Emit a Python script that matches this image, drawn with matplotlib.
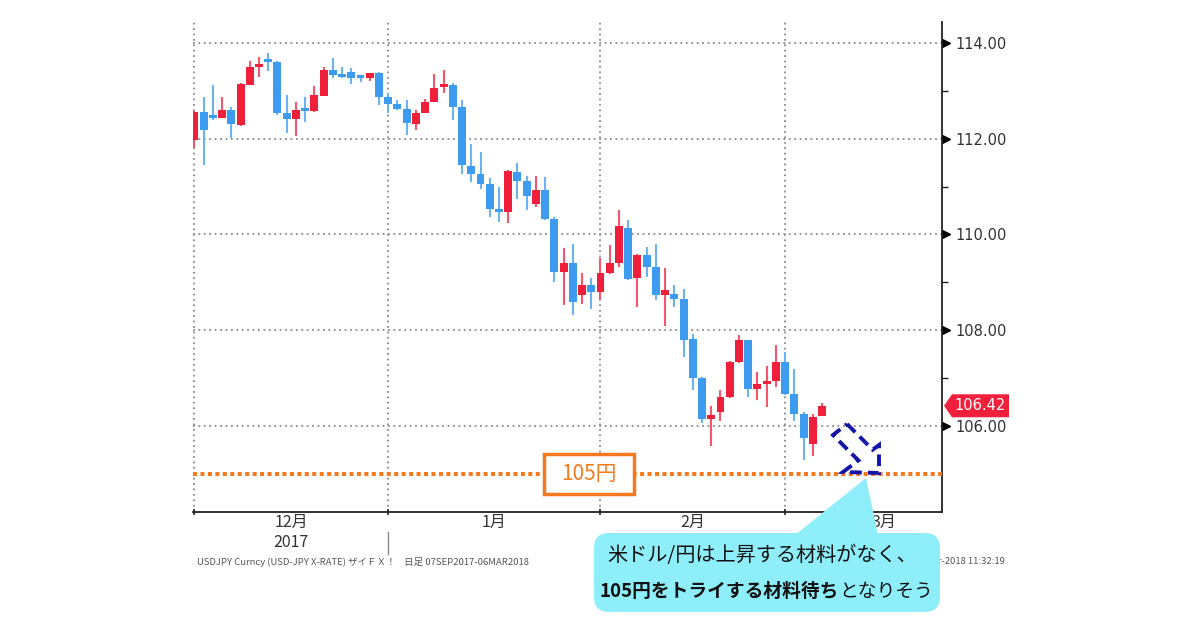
import numpy as np
import matplotlib
matplotlib.use('Agg')
import matplotlib.pyplot as plt
from matplotlib.patches import FancyBboxPatch, Polygon, Rectangle
from matplotlib.transforms import blended_transform_factory, IdentityTransform

plt.rcParams['font.family'] = ['Noto Sans CJK JP', 'DejaVu Sans']

# 米ドル/円 日足 (2017年12月〜2018年3月6日)
opens = [111.97, 112.56, 112.49, 112.43, 112.60, 112.28, 113.12, 113.50, 113.62, 113.60,
         112.54, 112.42, 112.63, 112.58, 112.89, 113.44, 113.35, 113.39, 113.30, 113.26,
         113.37, 112.88, 112.72, 112.63, 112.31, 112.53, 112.76, 113.09, 113.12, 112.67,
         111.43, 111.27, 111.06, 110.54, 110.47, 111.31, 111.12, 110.63, 110.93, 110.33,
         109.22, 109.41, 108.74, 108.94, 108.80, 109.19, 109.41, 110.14, 109.08, 109.58,
         109.33, 108.74, 108.76, 108.66, 107.82, 107.00, 106.15, 106.29, 106.60, 107.33,
         107.79, 106.76, 106.87, 106.94, 107.33, 106.67, 106.25, 105.63, 106.20]
highs = [112.58, 112.88, 113.12, 112.88, 112.66, 113.16, 113.62, 113.71, 113.79, 113.62,
         112.91, 112.77, 112.88, 113.11, 113.50, 113.68, 113.50, 113.47, 113.33, 113.38,
         113.39, 112.95, 112.81, 112.81, 112.61, 112.84, 113.35, 113.44, 113.17, 112.81,
         111.90, 111.73, 111.19, 110.99, 111.35, 111.50, 111.22, 111.22, 111.20, 110.36,
         109.72, 109.81, 109.19, 109.10, 109.50, 109.77, 110.51, 110.31, 109.60, 109.74,
         109.81, 109.30, 108.94, 108.85, 107.93, 107.02, 106.41, 106.74, 107.35, 107.89,
         107.80, 107.12, 107.26, 107.68, 107.54, 107.19, 106.30, 106.25, 106.47]
lows = [111.80, 111.45, 112.40, 112.43, 112.01, 112.26, 113.12, 113.29, 113.41, 112.50,
        112.12, 112.06, 112.35, 112.56, 112.89, 113.27, 113.27, 113.14, 113.19, 113.20,
        112.70, 112.53, 112.60, 112.08, 112.18, 112.53, 112.76, 112.96, 112.39, 111.27,
        111.10, 110.94, 110.37, 110.26, 110.23, 110.75, 110.52, 110.58, 110.30, 109.01,
        108.52, 108.31, 108.55, 108.45, 108.62, 109.17, 109.32, 109.04, 108.48, 109.11,
        108.62, 108.08, 108.48, 107.44, 106.74, 106.06, 105.58, 106.11, 106.58, 107.32,
        106.61, 106.55, 106.39, 106.81, 106.65, 106.11, 105.28, 105.37, 106.20]
closes = [112.56, 112.18, 112.43, 112.61, 112.31, 113.14, 113.50, 113.57, 113.60, 112.53,
          112.42, 112.60, 112.58, 112.91, 113.44, 113.33, 113.30, 113.26, 113.27, 113.37,
          112.88, 112.72, 112.63, 112.32, 112.53, 112.77, 113.07, 113.14, 112.67, 111.45,
          111.27, 111.05, 110.54, 110.47, 111.33, 111.12, 110.80, 110.93, 110.33, 109.22,
          109.41, 108.58, 108.94, 108.80, 109.19, 109.41, 110.17, 109.06, 109.58, 109.33,
          108.74, 108.83, 108.66, 107.80, 107.00, 106.15, 106.22, 106.60, 107.33, 107.79,
          106.76, 106.88, 106.92, 107.33, 106.67, 106.24, 105.75, 106.18, 106.41]

month_starts = [0, 21, 44, 64]          # 各月の最初のローソク足
month_labels = ['12月', '1月', '2月', '3月']
year_label = '2017'
yticks = [106, 108, 110, 112, 114]
last_price = 106.42
target = 105
target_label = '105円'
comment_1 = '米ドル/円は上昇する材料がなく、'
comment_2_bold = '105円をトライする材料待ち'
comment_2 = 'となりそう'
source_text = 'USDJPY Curncy (USD-JPY X-RATE) ザイＦＸ！    日足 07SEP2017-06MAR2018'
stamp_text = '06-Mar-2018 11:32:19'

RED = '#f0203c'
BLUE = '#3d9cf0'
ORANGE = '#f47a20'

W, H = 1200, 630
fig = plt.figure(figsize=(12, 6.3), dpi=100)
ax = fig.add_axes([193 / W, 118 / H, 749 / W, 490 / H])

# ローソク足
x = np.arange(len(opens))
o = np.array(opens)
c = np.array(closes)
up = c >= o
body_col = np.where(up, RED, BLUE)
wick_col = np.where(up, '#f4566e', '#6cb3f4')
ax.vlines(x, lows, highs, colors=wick_col, lw=1.5, zorder=2)
ax.bar(x, np.maximum(np.abs(c - o), 0.06), bottom=np.minimum(o, c), width=0.86,
       color=body_col, zorder=3)

ax.set_xlim(-0.15, 81.0)
ax.set_ylim(104.20, 114.44)

# 軸と目盛り
for s in ['top', 'left']:
    ax.spines[s].set_visible(False)
for s in ['right', 'bottom']:
    ax.spines[s].set_color('#222222')
    ax.spines[s].set_linewidth(1.3)

ax.set_xticks(month_starts)
ax.tick_params(axis='x', which='major', length=5, direction='inout', width=1.2,
               color='#222222', labelbottom=False)
ax.yaxis.tick_right()
ax.set_yticks(yticks)
ax.set_yticklabels([f'{v:.2f}' for v in yticks], family='DejaVu Sans')
ax.set_yticks([v + 1 for v in yticks[:-1]], minor=True)
ax.tick_params(axis='y', which='major', length=0, pad=10, labelsize=10.5, labelcolor='#333333')
ax.tick_params(axis='y', which='minor', length=4, width=1, color='#222222', direction='out')
ax.grid(True, which='major', color='#8a8a8a', ls=(0, (1, 2.0)), lw=1.3)
ax.set_axisbelow(True)

ty = blended_transform_factory(ax.transAxes, ax.transData)
ax.plot([1.0053] * len(yticks), yticks, ls='none', marker='>', ms=6, color='black',
        transform=ty, clip_on=False)

# 月ラベル
tx = blended_transform_factory(ax.transData, ax.transAxes)
bounds = month_starts + [month_starts[-1] + 21.5]
for i, lab in enumerate(month_labels):
    mid = (bounds[i] + bounds[i + 1]) / 2
    ax.text(mid, -0.021, lab, transform=tx, ha='center', va='center', fontsize=11.5,
            color='#333333')
ax.text((bounds[0] + bounds[1]) / 2, -0.063, year_label, transform=tx, ha='center',
        va='center', fontsize=11.5, color='#333333')
ax.plot([month_starts[1]] * 2, [-0.04, -0.085], transform=tx, color='#888888', lw=1,
        clip_on=False)

# 105円ライン
ax.axhline(target, color=ORANGE, lw=2.9, ls=(0, (1, 0.85)), zorder=4)
bx = 42.7
ax.add_patch(Rectangle((bx - 4.87, target - 0.42), 9.75, 0.835, fc='white', ec=ORANGE,
                       lw=2.5, zorder=5))
ax.text(bx, target, target_label, ha='center', va='center', fontsize=15, color=ORANGE,
        zorder=6)

# 現在値ラベル
px_x, px_y = ax.transData.transform((0, last_price))
right_x = ax.transAxes.transform((1.0, 0))[0]
tag = Polygon([(right_x + 2, px_y), (right_x + 10, px_y + 11.5), (right_x + 67, px_y + 11.5),
               (right_x + 67, px_y - 11.5), (right_x + 10, px_y - 11.5)], closed=True,
              fc=RED, ec='none', transform=IdentityTransform(), clip_on=False, zorder=4)
fig.add_artist(tag)
fig.text((right_x + 12) / W, px_y / H, f'{last_price:.2f}', ha='left', va='center',
         fontsize=10.5, color='white', family='DejaVu Sans', zorder=8)

# 出典
fig.text(197 / W, (H - 562) / H, source_text, fontsize=6.8, color='#555555', va='center')
fig.text(1005 / W, (H - 562) / H, stamp_text, fontsize=6.8, color='#555555', va='center',
         ha='right')


def inch(px, py):
    return (px / 100, (H - py) / 100)


# 青い点線の矢印 (右下向き)
arrow_px = [(847, 424), (872.7, 449.7), (879, 445), (879, 473), (843, 472),
            (858.4, 460.4), (833, 435)]
arrow = Polygon([inch(*p) for p in arrow_px], closed=True, fill=False, ec='#1414a8',
                lw=2.8, ls=(0, (3, 1.6)), transform=fig.dpi_scale_trans, zorder=5)
fig.add_artist(arrow)

# 吹き出し
CYAN = '#8eeefa'
box = FancyBboxPatch(inch(594, 612), 3.46, 0.79,
                     boxstyle='round,pad=0,rounding_size=0.15', fc=CYAN, ec='none',
                     transform=fig.dpi_scale_trans, zorder=5)
fig.add_artist(box)
wedge = Polygon([inch(795, 535), inch(866, 478), inch(878, 535)], closed=True, fc=CYAN,
                ec='none', transform=fig.dpi_scale_trans, zorder=5)
fig.add_artist(wedge)

fig.text(762 / W, (H - 556) / H, comment_1, ha='center', va='center', fontsize=14.5,
         color='#111111', zorder=6)
r = fig.canvas.get_renderer()
y2 = (H - 591) / H
t_b = fig.text(0, y2, comment_2_bold, ha='left', va='center', fontsize=13.5,
               fontweight='bold', color='#111111', zorder=6)
t_r = fig.text(0, y2, comment_2, ha='left', va='center', fontsize=13.5, color='#111111',
               zorder=6)
wb = t_b.get_window_extent(r).width
wr = t_r.get_window_extent(r).width
x0 = 766 - (wb + wr) / 2
t_b.set_x(x0 / W)
t_r.set_x((x0 + wb) / W)

fig.savefig('out.png', dpi=100, facecolor='white')
